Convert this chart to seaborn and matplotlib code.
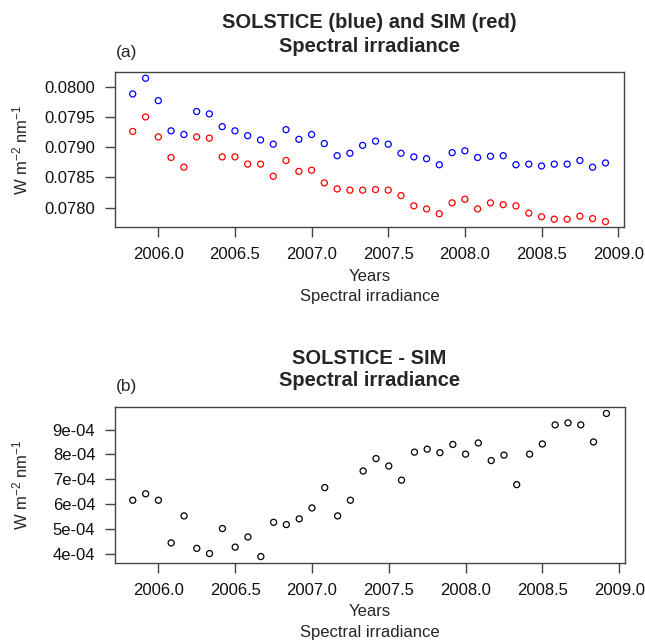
import numpy as np
import pandas as pd
import seaborn as sns
import matplotlib
matplotlib.use("Agg")
import matplotlib.pyplot as plt
from matplotlib.ticker import FuncFormatter, FixedLocator

# monthly samples, Nov 2005 .. Oct 2008
years = [2005.833, 2005.917, 2006.000, 2006.083, 2006.167, 2006.250, 2006.333,
         2006.417, 2006.500, 2006.583, 2006.667, 2006.750, 2006.833, 2006.917,
         2007.000, 2007.083, 2007.167, 2007.250, 2007.333, 2007.417, 2007.500,
         2007.583, 2007.667, 2007.750, 2007.833, 2007.917, 2008.000, 2008.083,
         2008.167, 2008.250, 2008.333, 2008.417, 2008.500, 2008.583, 2008.667,
         2008.750, 2008.833, 2008.917]

solstice = [0.07988, 0.08014, 0.07977, 0.07927, 0.07921, 0.07959, 0.07955,
            0.07934, 0.07927, 0.07919, 0.07912, 0.07905, 0.07929, 0.07913,
            0.07921, 0.07906, 0.07886, 0.07890, 0.07903, 0.07910, 0.07905,
            0.07890, 0.07884, 0.07881, 0.07871, 0.07891, 0.07894, 0.07883,
            0.07885, 0.07886, 0.07871, 0.07872, 0.07869, 0.07872, 0.07872,
            0.07878, 0.07867, 0.07874]

sim = [0.07926, 0.07950, 0.07917, 0.07883, 0.07867, 0.07917, 0.07915,
       0.07884, 0.07884, 0.07872, 0.07872, 0.07852, 0.07878, 0.07860,
       0.07862, 0.07841, 0.07831, 0.07829, 0.07829, 0.07830, 0.07829,
       0.07820, 0.07803, 0.07798, 0.07790, 0.07808, 0.07814, 0.07798,
       0.07808, 0.07805, 0.07803, 0.07791, 0.07785, 0.07781, 0.07781,
       0.07786, 0.07782, 0.07777]

diff = [6.15e-4, 6.41e-4, 6.15e-4, 4.43e-4, 5.52e-4, 4.21e-4, 4.00e-4,
        5.01e-4, 4.26e-4, 4.67e-4, 3.88e-4, 5.26e-4, 5.17e-4, 5.40e-4,
        5.84e-4, 6.66e-4, 5.52e-4, 6.15e-4, 7.33e-4, 7.83e-4, 7.53e-4,
        6.96e-4, 8.09e-4, 8.21e-4, 8.07e-4, 8.40e-4, 8.01e-4, 8.46e-4,
        7.75e-4, 7.97e-4, 6.78e-4, 8.01e-4, 8.42e-4, 9.19e-4, 9.27e-4,
        9.19e-4, 8.50e-4, 9.65e-4]

xticks = [2006.0, 2006.5, 2007.0, 2007.5, 2008.0, 2008.5, 2009.0]
yticks_a = [0.0780, 0.0785, 0.0790, 0.0795, 0.0800]
yticks_b = [4e-4, 5e-4, 6e-4, 7e-4, 8e-4, 9e-4]

df = pd.DataFrame({"year": years, "solstice": solstice, "sim": sim, "diff": diff})

sns.set_style("ticks")
plt.rcParams["font.family"] = ["Liberation Sans", "DejaVu Sans"]
plt.rcParams["mathtext.fontset"] = "custom"
plt.rcParams["mathtext.rm"] = "Liberation Sans"
plt.rcParams["mathtext.it"] = "Liberation Sans:italic"

W, H = 645, 641
fig = plt.figure(figsize=(W / 100, H / 100), dpi=100)


def px(x, y):
    return x / W, 1 - y / H


ax_a = fig.add_axes([115 / W, 1 - 227 / H, 509 / W, 155 / H])
ax_b = fig.add_axes([115 / W, 1 - 563 / H, 510 / W, 156 / H])

mk = dict(marker="o", s=19, facecolor="none", linewidth=0.9, legend=False)
sns.scatterplot(data=df, x="year", y="solstice", edgecolor="blue", ax=ax_a, **mk)
sns.scatterplot(data=df, x="year", y="sim", edgecolor="red", ax=ax_a, **mk)
sns.scatterplot(data=df, x="year", y="diff", edgecolor="black", ax=ax_b, **mk)

ax_a.set_ylim(0.077681, 0.080243)
ax_b.set_ylim(3.62e-4, 9.91e-4)
ax_a.yaxis.set_major_locator(FixedLocator(yticks_a))
ax_a.yaxis.set_major_formatter(FuncFormatter(lambda v, p: f"{v:.4f}"))
ax_b.yaxis.set_major_locator(FixedLocator(yticks_b))
ax_b.yaxis.set_major_formatter(FuncFormatter(lambda v, p: f"{v:.0e}"))

for ax in (ax_a, ax_b):
    ax.set_xlim(2005.7175, 2009.038)
    ax.xaxis.set_major_locator(FixedLocator(xticks))
    ax.xaxis.set_major_formatter(FuncFormatter(lambda v, p: f"{v:.1f}"))
    ax.set_xlabel("")
    ax.set_ylabel("")
    for sp in ax.spines.values():
        sp.set_visible(True)
        sp.set_color("#444444")
        sp.set_linewidth(1.0)
    ax.tick_params(direction="out", length=7.2, width=1.0, color="#444444",
                   labelsize=12, labelcolor="#111111", pad=7)

ylab = r"W m$^{-2}$ nm$^{-1}$"

# panel (a) texts
fig.text(*px(369.5, 23), "SOLSTICE (blue) and SIM (red)", ha="center", va="center",
         fontsize=14.5, fontweight="bold")
fig.text(*px(369.5, 46), "Spectral irradiance", ha="center", va="center",
         fontsize=14.5, fontweight="bold")
fig.text(*px(116, 52), "(a)", ha="left", va="center", fontsize=12.5)
fig.text(*px(369.5, 277), "Years", ha="center", va="center", fontsize=12)
fig.text(*px(369.5, 297), "Spectral irradiance", ha="center", va="center", fontsize=12)
fig.text(*px(20, 150), ylab, ha="center", va="center", rotation=90, fontsize=12)

# panel (b) texts
fig.text(*px(369.5, 358), "SOLSTICE - SIM", ha="center", va="center",
         fontsize=14.5, fontweight="bold")
fig.text(*px(369.5, 381), "Spectral irradiance", ha="center", va="center",
         fontsize=14.5, fontweight="bold")
fig.text(*px(116, 387), "(b)", ha="left", va="center", fontsize=12.5)
fig.text(*px(369.5, 612), "Years", ha="center", va="center", fontsize=12)
fig.text(*px(369.5, 632), "Spectral irradiance", ha="center", va="center", fontsize=12)
fig.text(*px(20, 485), ylab, ha="center", va="center", rotation=90, fontsize=12)

fig.savefig("out.png", dpi=100)
